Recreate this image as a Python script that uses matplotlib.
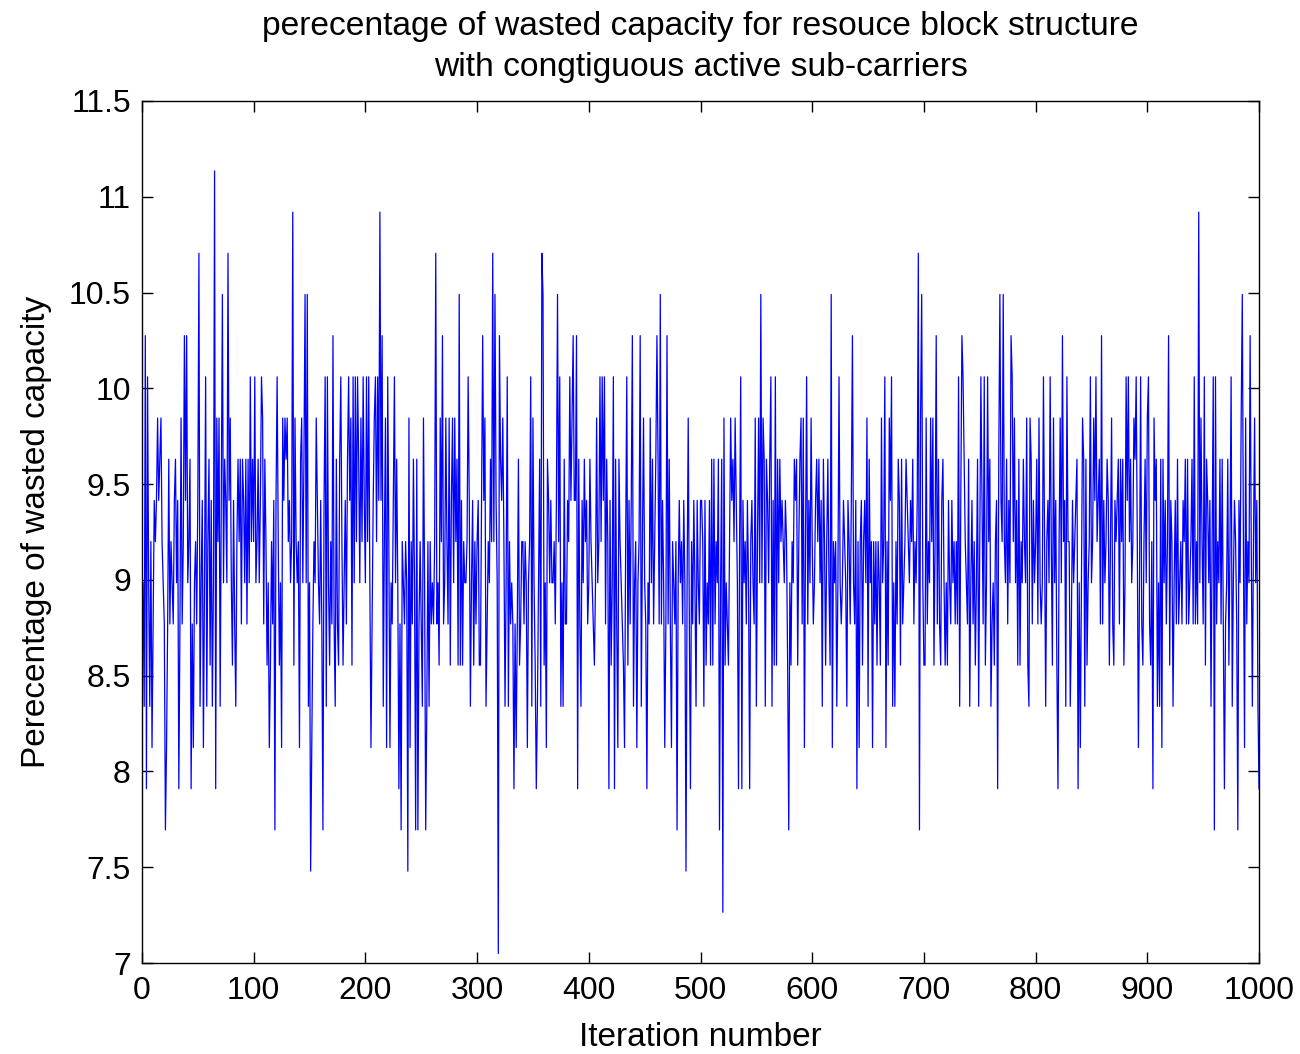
import matplotlib
matplotlib.use("Agg")
import matplotlib.pyplot as plt
from matplotlib.ticker import FuncFormatter

plt.rcParams['font.family'] = ['Liberation Sans', 'DejaVu Sans']

# wasted capacity can only take these discrete values (%)
LEVELS = [7.05, 7.265, 7.48, 7.695, 7.91, 8.125, 8.34, 8.555, 8.77, 8.985,
          9.20, 9.415, 9.63, 9.845, 10.06, 10.275, 10.49, 10.705, 10.92, 11.135]

# level index per iteration in blocks of 100 iterations
idx_0 = [9, 6, 15, 4, 14, 9, 6, 10, 5, 8, 11, 10, 11, 13, 11, 12, 13, 10, 9, 8, 3,
         5, 8, 12, 8, 10, 9, 8, 11, 12, 9, 11, 4, 8, 13, 8, 10, 15, 11, 15, 9, 10, 12, 4, 8, 5, 9, 10, 8, 11, 17,
         6, 9, 11, 5, 9, 14, 6, 10, 12, 7, 11, 6, 9, 19,
         4, 13, 10, 13, 6, 11, 16, 9, 12, 11, 9, 17,
         11, 13, 9, 7, 11, 8, 6, 10, 12, 10, 12, 8, 12, 11, 9, 12, 8, 12, 9, 14, 10, 12, 10]
idx_1 = [14, 9, 10, 12, 9, 11, 14, 13, 8, 12, 10, 7, 9, 5, 7, 10, 8, 11, 3,
         11, 14, 10, 7, 9, 5, 13, 11, 13, 12, 13, 10, 11, 9, 10, 18,
         7, 13, 10, 9, 10, 5, 12, 13, 9, 12, 16, 9, 16, 6, 9, 2,
         5, 8, 10, 9, 13, 11, 9, 8, 11, 8, 3, 11, 14, 6, 14, 9, 7, 10, 8, 15,
         8, 6, 12, 8, 7, 12, 14, 10, 7, 9, 11, 8, 12, 14, 11, 13, 7, 14, 9, 14, 10, 14, 12, 9, 13, 10, 14, 11, 9]
idx_2 = [14, 10, 14, 9, 5, 8, 11, 13, 14, 10, 14, 11, 18,
         11, 15, 6, 10, 13, 5, 14, 10, 5, 9, 8, 11, 14, 9, 12, 9, 4, 8, 3, 10, 9, 8, 10, 9, 2,
         13, 5, 10, 8, 12, 9, 3, 12, 3, 8, 10, 8, 6, 13, 9, 3, 6, 10, 6, 10, 8, 9, 8, 10, 17,
         8, 9, 7, 13, 10, 15, 8, 9, 13, 10, 8, 13, 7, 11, 13, 9, 13, 10, 12, 7, 16,
         7, 11, 7, 10, 9, 9, 10, 14, 11, 6, 9, 11, 7, 10, 8, 10]
idx_3 = [11, 7, 7, 11, 15, 11, 13, 6, 8, 10, 9, 12, 10, 17, 10, 16, 11, 9, 0,
         15, 12, 11, 13, 10, 6, 9, 14, 6, 10, 8, 9, 8, 4,
         8, 5, 8, 12, 7, 8, 10, 10, 8, 10, 9, 5, 9, 10, 14, 6, 13, 9, 7, 4, 6, 9, 12, 6, 17,
         16, 7, 9, 5, 12, 11, 9, 11, 9, 9, 10, 8, 11, 16,
         10, 14, 6, 9, 6, 12, 8, 8, 11, 10, 14, 11, 13, 15, 11, 11, 15, 4, 12, 8, 6, 11, 9, 12, 10, 11, 8, 9]
idx_4 = [12, 10, 9, 8, 7, 9, 13, 9, 10, 14, 10, 14, 11, 14, 8, 12, 10, 4,
         11, 7, 9, 14, 4, 12, 8, 5, 12, 10, 9, 8, 7, 5,
         10, 14, 7, 11, 8, 11, 15, 6, 9, 10, 5, 9, 10, 15,
         6, 10, 13, 9, 8, 4, 9, 8, 13, 9, 12, 8, 10, 12, 15, 12, 8, 16,
         8, 11, 9, 5, 8, 15, 8, 12, 8, 5, 10, 9, 8, 10, 3, 9, 11, 9, 10, 8, 11, 9, 2,
         9, 13, 8, 4, 10, 8, 11, 9, 6, 11, 9, 8, 11]
idx_5 = [11, 10, 6, 11, 7, 9, 8, 11, 7, 12, 7, 12, 8, 10, 9, 12, 3, 9, 12, 1,
         13, 7, 9, 8, 7, 10, 13, 11, 12, 10, 13, 11, 9, 4, 10, 14, 4, 11, 9, 10,
         8, 11, 9, 4, 10, 11, 9, 8, 13, 6, 10, 13, 9, 16,
         9, 13, 12, 6, 12, 11, 9, 12, 14, 6, 11, 7, 14, 7, 12, 9, 12, 10, 11, 10, 9, 11, 10, 7, 3,
         9, 7, 10, 9, 12, 11, 12, 7, 10, 12, 13, 8, 13, 5, 10, 14, 8, 11, 9, 13, 10]
idx_6 = [8, 9, 11, 12, 10, 12, 9, 11, 6, 12, 10, 7, 10, 12, 9, 7, 16,
         5, 10, 9, 10, 6, 9, 14, 9, 8, 9, 11, 10, 9, 6, 11, 10, 8, 11, 15, 9, 8, 11, 4,
         10, 5, 10, 11, 7, 10, 11, 9, 13, 6, 12, 9, 10, 5, 10, 8, 10, 7, 10, 9,
         7, 13, 9, 10, 14, 5, 10, 7, 13, 11, 14, 6, 9, 6, 10, 8, 12, 11, 7, 12,
         8, 9, 10, 12, 11, 10, 9, 11, 10, 12, 8, 10, 9, 11, 17,
         3, 13, 16, 9, 7]
idx_7 = [7, 13, 8, 10, 9, 13, 10, 13, 7, 10, 15, 8, 12, 8, 7, 11, 12, 9, 7, 9,
         7, 11, 9, 8, 11, 9, 10, 8, 10, 8, 14, 6, 11, 15,
         14, 12, 10, 9, 8, 12, 6, 9, 11, 8, 10, 7, 9, 12, 6, 10, 14, 11, 8, 14,
         7, 9, 14, 10, 12, 6, 8, 9, 7, 10, 11, 4,
         12, 16, 11, 10, 16, 10, 9, 12, 8, 11, 9, 15, 14, 10, 13, 9, 11, 7, 12, 7,
         10, 9, 12, 10, 9, 13, 7, 6, 13, 12, 8, 11, 9, 10]
idx_8 = [12, 8, 13, 9, 8, 9, 14, 10, 6, 10, 11, 9, 14, 10, 7, 13, 9, 11, 7, 4,
         10, 13, 9, 15, 10, 11, 6, 14, 10, 10, 6, 8, 11, 9, 10, 11, 12, 4,
         9, 5, 9, 13, 12, 6, 12, 7, 9, 10, 14, 9, 10, 13, 11, 14, 10, 11, 12, 8, 15,
         8, 11, 9, 10, 12, 11, 7, 10, 13, 8, 7, 11, 10, 11, 12, 8, 12, 10, 12, 7,
         9, 14, 11, 14, 10, 12, 9, 10, 13, 12, 14, 10, 5, 9, 14, 8, 7, 10, 12, 9, 13]
idx_9 = [14, 8, 7, 10, 4, 13, 11, 12, 6, 9, 6, 12, 5, 12, 9, 11, 8, 10, 15,
         7, 11, 10, 6, 9, 11, 8, 12, 8, 9, 10, 8, 11, 10, 12, 8, 12, 8, 9, 10,
         12, 8, 14, 8, 10, 8, 18,
         9, 13, 10, 8, 14, 7, 12, 11, 9, 11, 6, 10, 14, 3,
         14, 8, 10, 9, 12, 8, 12, 8, 4, 8, 9, 12, 7, 10, 14, 6, 9, 11, 10, 8, 3,
         11, 9, 13, 16, 10, 5, 13, 8, 10, 9, 15, 10, 6, 10, 13, 9, 11, 6, 4]

blocks = [idx_0, idx_1, idx_2, idx_3, idx_4, idx_5, idx_6, idx_7, idx_8, idx_9]
for i, b in enumerate(blocks):
    assert len(b) == 100, f"block {i} has {len(b)} values"

wasted_idx = [k for b in blocks for k in b]
iterations = list(range(1, len(wasted_idx) + 1))
wasted_pct = [LEVELS[k] for k in wasted_idx]

fig = plt.figure(figsize=(13, 10.54), dpi=100)
ax = fig.add_axes([0.1092, 0.0863, 0.8593, 0.8179])
ax.plot(iterations, wasted_pct, color='#0000ff', lw=0.9)

ax.set_xlim(0, 1000)
ax.set_ylim(7, 11.5)
ax.set_xticks(range(0, 1001, 100))
ax.set_yticks([7 + 0.5 * i for i in range(10)])
ax.yaxis.set_major_formatter(FuncFormatter(lambda v, p: f"{v:g}"))
ax.tick_params(direction='in', top=True, right=True, length=8, width=1.0,
               labelsize=23, color='black')
ax.tick_params(axis='x', pad=9)
ax.tick_params(axis='y', pad=8)
for s in ax.spines.values():
    s.set_linewidth(1.0)

ax.set_xlabel('Iteration number', fontsize=24, labelpad=12)
ax.set_ylabel('Perecentage of wasted capacity', fontsize=24, labelpad=12)
ax.set_title('perecentage of wasted capacity for resouce block structure\n'
             'with congtiguous active sub-carriers', fontsize=24.2, pad=18,
             linespacing=1.4)

fig.savefig('out.png', dpi=100)
